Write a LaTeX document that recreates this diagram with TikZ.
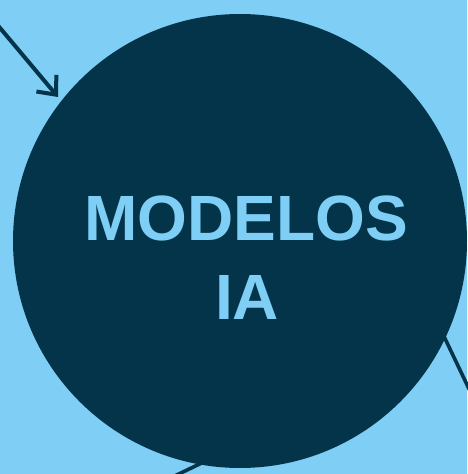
\documentclass[tikz,border=0pt]{standalone}
\usepackage{fontspec}
\setmainfont{Liberation Sans}
\usetikzlibrary{arrows.meta}
\definecolor{bgblue}{RGB}{126,206,245}
\definecolor{navy}{RGB}{3,52,74}
\begin{document}
\begin{tikzpicture}[x=1pt,y=-1pt,
  conn/.style={draw=navy,line width=4pt},
  bigdisc/.style={circle,fill=navy,minimum size=454pt,inner sep=0pt},
  label/.style={text=bgblue,font=\fontsize{64}{79}\selectfont\bfseries,anchor=base,inner sep=0pt}]
\fill[bgblue] (0,0) rectangle (467,474);
\useasboundingbox (0,0) rectangle (467,474);
% coordinates
\coordinate (a0) at (-10,16);
\coordinate (a1) at (58,97);
\coordinate (r0) at (420,286);
\coordinate (r1) at (480,412);
\coordinate (b0) at (210,459);
\coordinate (b1) at (160,483);
% lines behind the disc
\draw[conn,line width=3.6pt] (r0) -- (r1);
\draw[conn,line width=3.6pt] (b0) -- (b1);
% disc
\node[bigdisc] (c) at (240,241) {};
\node[label] (t1) at (246,240) {MODELOS};
\node[label] (t2) at (247,319) {IA};
% arrow
\draw[conn,-{Straight Barb[length=15pt,width=26pt,line width=4pt]}] (a0) -- (a1);
\end{tikzpicture}
\end{document}
